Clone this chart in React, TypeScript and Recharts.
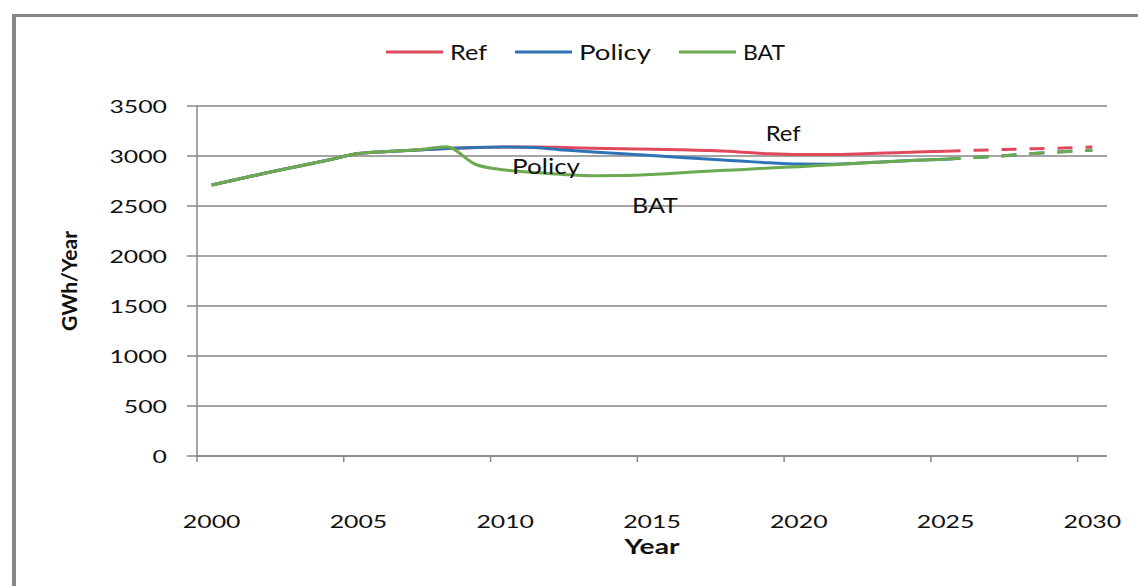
import React from 'react';
import { LineChart, Line, XAxis, YAxis, CartesianGrid, Legend, ReferenceDot } from 'recharts';

const years = [2000, 2001, 2002, 2003, 2004, 2005, 2006, 2007, 2008, 2009, 2010, 2011, 2012, 2013, 2014, 2015, 2016, 2017, 2018, 2019, 2020, 2021, 2022, 2023, 2024, 2025, 2026, 2027, 2028, 2029, 2030];
const refValues = [2710, 2775, 2840, 2900, 2962, 3025, 3045, 3060, 3075, 3085, 3090, 3090, 3085, 3078, 3072, 3068, 3062, 3055, 3040, 3022, 3015, 3015, 3020, 3030, 3040, 3048, 3057, 3065, 3073, 3080, 3090];
const policyValues = [2710, 2775, 2840, 2900, 2962, 3025, 3045, 3060, 3075, 3085, 3090, 3085, 3060, 3040, 3022, 3005, 2985, 2968, 2950, 2932, 2920, 2918, 2927, 2943, 2957, 2968, 2985, 3002, 3025, 3042, 3058];
const batValues = [2710, 2775, 2840, 2900, 2962, 3025, 3045, 3062, 3092, 2915, 2860, 2835, 2815, 2802, 2804, 2815, 2832, 2850, 2863, 2880, 2893, 2910, 2927, 2943, 2957, 2968, 2985, 3002, 3025, 3042, 3058];
const projectionFrom = 2025;

const seriesNames = ['Ref', 'Policy', 'BAT'];
const seriesKeys = ['ref', 'policy', 'bat'];
const seriesColors = ['#E0485C', '#2E74B5', '#6CAA4F'];
const legendTextWidths = [37, 72, 42];

const xTickValues = [1999.5, 2004.5, 2009.5, 2014.5, 2019.5, 2024.5, 2029.5];
const xTickLabels = ['2000', '2005', '2010', '2015', '2020', '2025', '2030'];
const xDomain = [1999.5, 2030.5];
const yTicks = [0, 500, 1000, 1500, 2000, 2500, 3000, 3500];

const annotationTexts = ['Ref', 'Policy', 'BAT'];
const annotationYears = [2019.47, 2011.39, 2015.1];
const annotationValues = [3230, 2900, 2510];
const annotationWidths = [35, 68, 46];

const FONT = 'Lato, "Open Sans", sans-serif';
const GRID = '#878787';
const TEXT = '#111';

const CHART_W = 1138;
const CHART_H = 586;
const MARGIN = { top: 106, right: 31, bottom: 50, left: 117 };
const Y_AXIS_W = 80;
const X_AXIS_H = 80;
const PLOT_W = CHART_W - MARGIN.left - MARGIN.right - Y_AXIS_W;
const HALF_BAND = PLOT_W / (years.length) / 2;
const CHAR_W = 14.4;

const allValues = [refValues, policyValues, batValues];
const data = years.map((year, i) => {
  const row: any = { year };
  seriesKeys.forEach((k, s) => {
    const v = allValues[s][i];
    row[k] = year <= projectionFrom ? v : null;
    row[k + 'Proj'] = year >= projectionFrom ? v : null;
  });
  return row;
});

function StretchText(props: any) {
  const { x, y, text, width, size, anchor = 'middle', bold = false, rotate } = props;
  return (
    <text
      x={x}
      y={y}
      fontSize={size}
      fontFamily={FONT}
      fontWeight={bold ? 700 : 400}
      fill={TEXT}
      textAnchor={anchor}
      textLength={width}
      lengthAdjust="spacingAndGlyphs"
      transform={rotate ? `rotate(${rotate} ${x} ${y})` : undefined}
    >
      {text}
    </text>
  );
}

const XTick = (props: any) => {
  const { x, y, index } = props;
  const label = xTickLabels[index] ?? '';
  return <StretchText x={x + HALF_BAND} y={y + 66} text={label} width={label.length * CHAR_W} size={18} />;
};

const YTick = (props: any) => {
  const { x, y, payload } = props;
  const label = String(payload.value);
  return <StretchText x={x} y={y + 6.5} text={label} width={label.length * CHAR_W} size={18} anchor="end" />;
};

const LegendContent = () => {
  let cx = 386;
  const items = seriesNames.map((name, i) => {
    const lineStart = cx;
    const textStart = lineStart + 57 + 7;
    cx = textStart + legendTextWidths[i] + 28;
    return (
      <g key={name}>
        <line x1={lineStart} x2={lineStart + 57} y1={17} y2={17} stroke={seriesColors[i]} strokeWidth={3} />
        <StretchText x={textStart} y={25} text={name} width={legendTextWidths[i]} size={22} anchor="start" />
      </g>
    );
  });
  return (
    <svg width={CHART_W} height={35} style={{ display: 'block' }}>
      {items}
    </svg>
  );
};

export default function App() {
  return (
    <div style={{ position: 'absolute', left: 0, top: 0, width: CHART_W, height: CHART_H, overflow: 'hidden', background: '#fff' }}>
      <div
        style={{
          position: 'absolute',
          left: 12,
          top: 14,
          width: 1300,
          height: 800,
          borderLeft: `4px solid ${GRID}`,
          borderTop: `3px solid ${GRID}`,
        }}
      />
      <div style={{ position: 'absolute', left: 0, top: 0 }}>
        <LineChart width={CHART_W} height={CHART_H} data={data} margin={MARGIN}>
          <CartesianGrid horizontal={true} vertical={false} stroke={GRID} strokeWidth={1.5} />
          <XAxis
            dataKey="year"
            type="number"
            domain={xDomain}
            ticks={xTickValues}
            interval={0}
            height={X_AXIS_H}
            axisLine={{ stroke: GRID, strokeWidth: 1.5 }}
            tickLine={{ stroke: GRID, strokeWidth: 1.5 }}
            tickSize={6}
            tickMargin={0}
            tick={(p: any) => <XTick {...p} />}
            label={{
              content: (p: any) => {
                const vb = p.viewBox;
                return <StretchText x={vb.x + vb.width / 2} y={vb.y + 98} text="Year" width={55} size={21} bold />;
              },
            }}
          />
          <YAxis
            type="number"
            domain={[0, 3500]}
            ticks={yTicks}
            interval={0}
            width={Y_AXIS_W}
            axisLine={{ stroke: GRID, strokeWidth: 1.5 }}
            tickLine={{ stroke: GRID, strokeWidth: 1.5 }}
            tickSize={10}
            tickMargin={20}
            tick={(p: any) => <YTick {...p} />}
            label={{
              content: (p: any) => {
                const vb = p.viewBox;
                return (
                  <StretchText x={vb.x - 40} y={vb.y + vb.height / 2} text="GWh/Year" width={100} size={21} bold rotate={-90} />
                );
              },
            }}
          />
          <Legend
            layout="vertical"
            align="center"
            verticalAlign="middle"
            wrapperStyle={{ left: 0, top: 35, width: CHART_W, height: 35 }}
            content={() => <LegendContent />}
          />
          {seriesKeys.map((k, i) => (
            <Line
              key={k}
              type="monotone"
              dataKey={k}
              name={seriesNames[i]}
              stroke={seriesColors[i]}
              strokeWidth={3}
              dot={false}
              activeDot={false}
              isAnimationActive={false}
            />
          ))}
          {seriesKeys.map((k, i) => (
            <Line
              key={k + 'Proj'}
              type="monotone"
              dataKey={k + 'Proj'}
              name={seriesNames[i]}
              stroke={seriesColors[i]}
              strokeWidth={3}
              strokeDasharray="15 13"
              dot={false}
              activeDot={false}
              isAnimationActive={false}
              legendType="none"
            />
          ))}
          {annotationTexts.map((t, i) => (
            <ReferenceDot
              key={t}
              x={annotationYears[i]}
              y={annotationValues[i]}
              r={0}
              shape={(p: any) => <StretchText x={p.cx} y={p.cy + 8} text={t} width={annotationWidths[i]} size={22} />}
            />
          ))}
        </LineChart>
      </div>
    </div>
  );
}
